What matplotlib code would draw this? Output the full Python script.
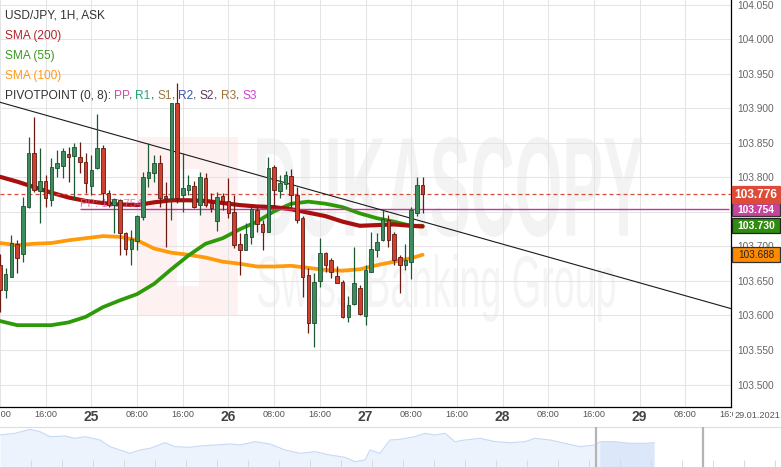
import numpy as np
import matplotlib
matplotlib.use("Agg")
import matplotlib.pyplot as plt
from matplotlib import font_manager
from matplotlib.patches import Rectangle, PathPatch
from matplotlib.textpath import TextPath
from matplotlib.font_manager import FontProperties
import matplotlib.transforms as mtransforms

# ---------------- data ----------------
# hours relative to 25.01.2021 00:00 (hourly candles, USD/JPY ask)
hours = np.arange(-16, 59)
opens = [103.673, 103.637, 103.656, 103.704, 103.689, 103.757, 103.835, 103.780, 103.795, 103.767, 103.814, 103.817, 103.834, 103.831, 103.830, 103.822,
         103.788, 103.814, 103.843, 103.777, 103.760, 103.767, 103.720, 103.696, 103.708, 103.743, 103.799, 103.806, 103.821, 103.773, 103.770, 103.908,
         103.775, 103.782, 103.788, 103.760, 103.799, 103.763, 103.737, 103.773, 103.766, 103.750, 103.704, 103.695, 103.714, 103.753, 103.733, 103.721,
         103.815, 103.780, 103.791, 103.802, 103.775, 103.741, 103.659, 103.589, 103.650, 103.691, 103.680, 103.657, 103.649, 103.598, 103.617, 103.640,
         103.599, 103.663, 103.695, 103.709, 103.738, 103.718, 103.685, 103.673, 103.677, 103.749, 103.789]
highs = [103.689, 103.669, 103.717, 103.709, 103.772, 103.859, 103.888, 103.843, 103.804, 103.828, 103.840, 103.843, 103.844, 103.850, 103.851, 103.835,
         103.833, 103.892, 103.847, 103.782, 103.770, 103.769, 103.721, 103.724, 103.746, 103.808, 103.850, 103.833, 103.833, 103.793, 103.908, 103.937,
         103.835, 103.804, 103.795, 103.808, 103.806, 103.777, 103.779, 103.777, 103.799, 103.775, 103.720, 103.734, 103.757, 103.757, 103.738, 103.830,
         103.818, 103.804, 103.809, 103.812, 103.786, 103.744, 103.669, 103.662, 103.712, 103.692, 103.683, 103.672, 103.651, 103.628, 103.699, 103.644,
         103.673, 103.721, 103.720, 103.753, 103.746, 103.721, 103.688, 103.704, 103.757, 103.801, 103.801]
lows = [103.605, 103.625, 103.656, 103.662, 103.677, 103.756, 103.779, 103.734, 103.757, 103.759, 103.801, 103.799, 103.793, 103.767, 103.806, 103.777,
        103.775, 103.812, 103.763, 103.757, 103.720, 103.688, 103.688, 103.673, 103.695, 103.738, 103.786, 103.793, 103.757, 103.699, 103.738, 103.763,
        103.750, 103.775, 103.756, 103.746, 103.757, 103.750, 103.722, 103.753, 103.741, 103.698, 103.659, 103.695, 103.704, 103.721, 103.695, 103.721,
        103.757, 103.770, 103.783, 103.757, 103.734, 103.627, 103.575, 103.554, 103.641, 103.663, 103.654, 103.647, 103.596, 103.591, 103.615, 103.601,
        103.586, 103.663, 103.685, 103.708, 103.699, 103.673, 103.633, 103.666, 103.653, 103.744, 103.749]
closes = [103.637, 103.660, 103.705, 103.683, 103.759, 103.835, 103.782, 103.795, 103.770, 103.815, 103.821, 103.838, 103.830, 103.844, 103.822, 103.792,
          103.811, 103.843, 103.777, 103.760, 103.769, 103.720, 103.696, 103.711, 103.744, 103.801, 103.808, 103.821, 103.770, 103.770, 103.908, 103.770,
          103.785, 103.789, 103.757, 103.801, 103.760, 103.756, 103.772, 103.766, 103.749, 103.702, 103.695, 103.718, 103.754, 103.733, 103.721, 103.814,
          103.782, 103.792, 103.804, 103.775, 103.738, 103.656, 103.589, 103.649, 103.691, 103.673, 103.663, 103.647, 103.598, 103.615, 103.647, 103.602,
          103.666, 103.696, 103.706, 103.740, 103.709, 103.680, 103.673, 103.680, 103.753, 103.789, 103.776]

ma_hours = [-16, -13, -10, -7, -4, -1, 2, 5, 8, 11, 14, 17, 20, 23, 26, 29, 32, 35, 38, 41, 44, 47, 50, 53, 56, 58]
sma200 = [103.801, 103.794, 103.786, 103.778, 103.771, 103.766, 103.763, 103.761, 103.760, 103.764, 103.767, 103.767, 103.766,
          103.763, 103.760, 103.758, 103.757, 103.754, 103.749, 103.744, 103.736, 103.730, 103.731, 103.732, 103.730, 103.729]
sma55 = [103.592, 103.586, 103.586, 103.586, 103.590, 103.598, 103.612, 103.622, 103.631, 103.646, 103.667, 103.687, 103.704,
         103.712, 103.725, 103.736, 103.751, 103.762, 103.765, 103.762, 103.757, 103.748, 103.741, 103.736, 103.730, 103.730]
sma100 = [103.705, 103.702, 103.704, 103.705, 103.709, 103.712, 103.715, 103.714, 103.709, 103.697, 103.691, 103.688, 103.684,
          103.678, 103.675, 103.671, 103.671, 103.672, 103.669, 103.666, 103.665, 103.667, 103.673, 103.678, 103.683, 103.688]

trend_hours = [-16, 112]
trend_prices = [103.909, 103.610]
pp_start = -2
pp_level = 103.754
last_price = 103.776
sma55_last = 103.730
sma100_last = 103.688

tick_hours = list(range(-16, 113, 8))
tick_labels = ["08:00", "16:00", "25", "08:00", "16:00", "26", "08:00", "16:00", "27",
               "08:00", "16:00", "28", "08:00", "16:00", "29", "08:00", "16:00"]
date_label = "29.01.2021"
price_ticks = [103.50, 103.55, 103.60, 103.65, 103.70, 103.75, 103.80, 103.85, 103.90, 103.95, 104.00, 104.05]

# navigator overview (relative heights)
nav_t = [0, 15, 30, 40, 50, 65, 75, 85, 100, 110, 120, 130, 140, 150, 165, 175, 190, 200, 215, 230,
         240, 255, 270, 285, 300, 315, 330, 345, 355, 365, 370, 380, 390, 400, 415, 425, 435, 445, 455, 465,
         480, 495, 510, 525, 535, 550, 565, 580, 595, 600, 615, 630, 645, 654]
nav_v = [96, 101, 113, 106, 91, 93, 86, 91, 81, 61, 51, 41, 51, 56, 73, 61, 59, 63, 66, 69,
         66, 76, 69, 51, 41, 46, 36, 29, 16, 21, 51, 41, 81, 83, 91, 101, 96, 101, 76, 81,
         86, 76, 73, 76, 86, 81, 71, 61, 66, 76, 76, 71, 71, 73]
nav_sel = (596, 654)
nav_handles = [596, 703]

# ---------------- fonts ----------------
names = {f.name for f in font_manager.fontManager.ttflist}
BASE = "Liberation Sans" if "Liberation Sans" in names else "DejaVu Sans"
NARROW = "Liberation Sans Narrow" if "Liberation Sans Narrow" in names else None
plt.rcParams["font.family"] = [BASE, "DejaVu Sans"]

W, H = 781, 467
fig = plt.figure(figsize=(W / 100, H / 100), dpi=100)
fig.patch.set_facecolor("white")
ax = fig.add_axes([0, 60 / H, 731 / W, 407 / H])
ax.set_facecolor("white")

# ---------------- watermark ----------------
def path_text(s, box, weight, color, z):
    fp = FontProperties(family=BASE, weight=weight)
    tp = TextPath((0, 0), s, size=1, prop=fp)
    ext = tp.get_extents()
    x0, y0, x1, y1 = box
    tr = (mtransforms.Affine2D().translate(-ext.x0, -ext.y0)
          .scale((x1 - x0) / ext.width, (y1 - y0) / ext.height)
          .translate(x0, y0) + ax.transAxes)
    ax.add_artist(PathPatch(tp, transform=tr, facecolor=color, edgecolor="none", zorder=z))

ax.add_artist(Rectangle((137 / 731, 1 - 316 / 407), 101 / 731, 179 / 407, transform=ax.transAxes,
                        facecolor="#fdf2f1", edgecolor="none", zorder=0.1))
ax.add_artist(Rectangle((177 / 731, 1 - 286 / 407), 22 / 731, 117 / 407, transform=ax.transAxes,
                        facecolor="white", edgecolor="none", zorder=0.15))
path_text("DUKASCOPY", (257 / 731, 1 - 237 / 407, 643 / 731, 1 - 137 / 407), "bold", "#f3f3f3", 0.2)
path_text("Swiss Banking Group", (258 / 731, 1 - 322 / 407, 615 / 731, 1 - 254 / 407), "normal", "#f4f4f4", 0.2)

# ---------------- grid / axes ----------------
ax.set_xlim(-15.99, 111.72)
ax.set_ylim(103.4674, 104.0572)
ax.set_axisbelow(True)
ax.grid(True, color="#e4e4e4", lw=0.75, zorder=0.5)
for s in ("top", "left"):
    ax.spines[s].set_visible(False)
for s in ("right", "bottom"):
    ax.spines[s].set_color("black")
    ax.spines[s].set_linewidth(0.9)
ax.yaxis.tick_right()
ax.set_yticks(price_ticks)
ax.set_yticklabels([f"{v:.3f}" for v in price_ticks])
ax.tick_params(axis="y", length=0, pad=4.5, labelsize=7.3, labelcolor="#666666")
ax.set_xticks(tick_hours)
ax.set_xticklabels(tick_labels)
ax.tick_params(axis="x", length=0, pad=2.5)
for lab in ax.get_xticklabels():
    t = lab.get_text()
    if len(t) == 2:
        if NARROW:
            lab.set_fontfamily(NARROW)
            lab.set_fontsize(10.5)
        else:
            lab.set_fontsize(10)
        lab.set_fontweight("bold")
        lab.set_color("#444444")
    else:
        if NARROW:
            lab.set_fontfamily(NARROW)
            lab.set_fontsize(7.6)
        else:
            lab.set_fontsize(6.6)
        lab.set_color("#555555")

# ---------------- lines ----------------
ax.plot(ma_hours, sma100, color="#ff9a0a", lw=2.7, solid_capstyle="round", zorder=2)
ax.plot(ma_hours, sma55, color="#2e9a0a", lw=2.7, solid_capstyle="round", zorder=2.05)
ax.plot(ma_hours, sma200, color="#a8100e", lw=3.0, solid_capstyle="round", zorder=2.1)
ax.plot(trend_hours, trend_prices, color="#1a1a1a", lw=0.8, zorder=2.3)
ax.hlines(pp_level, pp_start, 111.72, color="#cc3399", lw=1.0, zorder=2.2)
ax.axhline(last_price, color="#d5503c", lw=0.9, ls=(0, (3.2, 2.4)), zorder=2.2)
ax.text(pp_start, pp_level + 0.0004, "PP: 103.754", color="#d460aa", alpha=0.8, fontsize=8.2,
        ha="left", va="bottom", zorder=2.25)

# ---------------- candles ----------------
o = np.array(opens); c = np.array(closes); hi = np.array(highs); lo = np.array(lows)
up = c >= o
wick_col = np.where(up, "#1d5a34", "#6a1a12")
ax.vlines(hours, lo, hi, colors=wick_col, lw=0.9, zorder=2.9)
body_lo = np.minimum(o, c)
body_h = np.maximum(np.abs(c - o), 0.0007)
ax.bar(hours[up], body_h[up], bottom=body_lo[up], width=0.62, color="#3c8c5c",
       edgecolor="#1d4f30", linewidth=0.6, zorder=3)
ax.bar(hours[~up], body_h[~up], bottom=body_lo[~up], width=0.62, color="#d0402e",
       edgecolor="#5e1a12", linewidth=0.6, zorder=3)

# ---------------- legend text (top-left) ----------------
renderer = fig.canvas.get_renderer()
FS = 8.6
def txt_w(s, **kw):
    t = ax.text(0, 0, s, transform=ax.transAxes, fontsize=FS, **kw)
    w = t.get_window_extent(renderer).width
    t.remove()
    return w

def leg_y(py):
    return 1 - py / 407

x0 = 5 / 731
ax.text(x0, leg_y(15), "USD/JPY, 1H, ASK", transform=ax.transAxes, fontsize=FS, color="#333333",
        va="center", ha="left", zorder=2.8)
ax.text(x0, leg_y(36), "SMA (200)", transform=ax.transAxes, fontsize=FS, color="#b3262b",
        va="center", ha="left", zorder=2.8)
ax.text(x0, leg_y(56), "SMA (55)", transform=ax.transAxes, fontsize=FS, color="#3a9a1e",
        va="center", ha="left", zorder=2.8)
ax.text(x0, leg_y(76), "SMA (100)", transform=ax.transAxes, fontsize=FS, color="#ff9a1a",
        va="center", ha="left", zorder=2.8)

segments = [("PIVOTPOINT (0, 8):", "#333333"), (" ", None), ("PP", "#d04aa4"), (",", "#333333"), (" ", None),
            ("R1", "#2aa07a"), (",", "#333333"), (" ", None), ("S1", "#9a7a45"), (",", "#333333"), (" ", None),
            ("R2", "#3a56a8"), (",", "#333333"), (" ", None), ("S2", "#5a3a5e"), (",", "#333333"), (" ", None),
            ("R3", "#a0703a"), (",", "#333333"), (" ", None), ("S3", "#cc44cc")]
prefix = ""
for seg, col in segments:
    if col is not None:
        xpx = 5 + txt_w(prefix + seg) - txt_w(seg)
        ax.text(xpx / 731, leg_y(96), seg, transform=ax.transAxes, fontsize=FS, color=col,
                va="center", ha="left", zorder=2.8)
    prefix += seg

# ---------------- right price boxes ----------------
def yfig(price):
    return ax.transData.transform((0, price))[1] / H

def price_box(price, label, fc, tc, hpx, fs, weight, ec):
    yc = yfig(price)
    fig.patches.append(Rectangle((731.5 / W, yc - hpx / 2 / H), 48.5 / W, hpx / H, transform=fig.transFigure,
                                 facecolor=fc, edgecolor=ec, linewidth=0.9, zorder=5))
    fig.text(756 / W, yc - 0.5 / H, label, color=tc, fontsize=fs, fontweight=weight,
             ha="center", va="center", zorder=6)

price_box(sma100_last, "103.688", "#ff8c00", "#222222", 15, 7.2, "normal", "#333333")
price_box(sma55_last, "103.730", "#2f8c0f", "white", 15, 7.6, "bold", "#222222")
price_box(pp_level, "103.754", "#c8449c", "white", 13, 7.4, "bold", "#333333")
price_box(last_price, "103.776", "#dd4b39", "white", 17, 8.6, "bold", "#dd4b39")

# date label bottom right
fig.text(780 / W, 1 - 415 / H, date_label, ha="right", va="center",
         fontfamily=NARROW if NARROW else BASE, fontsize=7.6 if NARROW else 6.6, color="#555555",
         bbox=dict(boxstyle="square,pad=0.15", facecolor="white", edgecolor="none"), zorder=6)

# ---------------- navigator ----------------
ax2 = fig.add_axes([0, 0, 1, 40 / H])
ax2.set_xlim(0, W)
ax2.set_ylim(0, 120)
ax2.set_xticks([]); ax2.set_yticks([])
for s in ("left", "right", "bottom"):
    ax2.spines[s].set_visible(False)
ax2.spines["top"].set_color("#dddddd")
ax2.spines["top"].set_linewidth(0.8)
nt = np.array(nav_t); nv = np.array(nav_v)
ax2.fill_between(nt, 0, nv, color="#edf3fd", lw=0, zorder=1)
sel = (nt >= nav_sel[0]) & (nt <= nav_sel[1])
ax2.fill_between(nt, 0, nv, where=sel, color="#dce7fa", lw=0, zorder=1.1)
ax2.plot(nt, nv, color="#c6d9f5", lw=0.8, zorder=2)
for xx in range(31, 781, 31):
    ax2.vlines(xx, 0, 22, color="#d9d9d9", lw=0.7, zorder=1.5)
for xh in nav_handles:
    ax2.axvline(xh, color="#b4b4b4", lw=1.6, zorder=3)

fig.savefig("out.png", dpi=100, facecolor="white")
